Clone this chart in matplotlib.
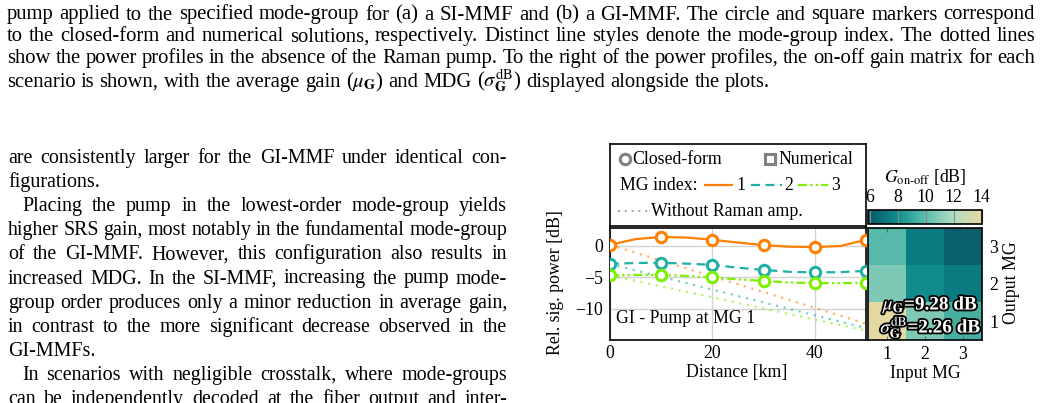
import numpy as np
import matplotlib
matplotlib.use("Agg")
import matplotlib.pyplot as plt
import matplotlib.patheffects as pe
from matplotlib.colors import LinearSegmentedColormap

plt.rcParams['font.family'] = ['Liberation Serif', 'DejaVu Serif']
plt.rcParams['mathtext.fontset'] = 'stix'

# ---- data ----
dist_marks = [0, 10, 20, 30, 40, 50]
mg1_closed = [0.15, 1.4, 0.95, 0.1, -0.2, 0.95]
mg2_closed = [-2.9, -2.7, -3.05, -3.85, -4.25, -4.0]
mg3_closed = [-4.7, -4.65, -5.05, -5.6, -5.95, -5.9]

dist_line = [0, 5, 10, 15, 20, 25, 30, 35, 40, 45, 50]
mg1_line = [0.15, 1.05, 1.4, 1.3, 0.95, 0.5, 0.1, -0.15, -0.2, -0.05, 0.95]
mg2_line = [-2.9, -2.75, -2.7, -2.85, -3.05, -3.5, -3.85, -4.15, -4.25, -4.2, -4.0]
mg3_line = [-4.7, -4.65, -4.65, -4.8, -5.05, -5.35, -5.6, -5.85, -5.95, -5.95, -5.9]

dist_noraman = [0, 50]
mg1_noraman = [0.15, -12.4]
mg2_noraman = [-2.9, -13.1]
mg3_noraman = [-4.7, -13.5]

# rows = output MG 1..3, cols = input MG 1..3
gain = np.array([[13.9, 10.8, 9.4],
                 [10.8, 8.0, 7.3],
                 [9.8, 7.3, 6.2]])
mg_ticks = [1, 2, 3]
cbar_ticks = [6, 8, 10, 12, 14]

caption_lines = [
    "pump applied to the specified mode-group for (a) a SI-MMF and (b) a GI-MMF. The circle and square markers correspond",
    "to the closed-form and numerical solutions, respectively. Distinct line styles denote the mode-group index. The dotted lines",
    "show the power profiles in the absence of the Raman pump. To the right of the power profiles, the on-off gain matrix for each",
    r"scenario is shown, with the average gain ($\mu_{\mathbf{G}}$) and MDG ($\sigma_{\mathbf{G}}^{\mathrm{dB}}$) displayed alongside the plots.",
]
body_lines = [
    ("are consistently larger for the GI-MMF under identical con-", True, False),
    ("figurations.", False, False),
    ("Placing the pump in the lowest-order mode-group yields", True, True),
    ("higher SRS gain, most notably in the fundamental mode-group", True, False),
    ("of the GI-MMF. However, this configuration also results in", True, False),
    ("increased MDG. In the SI-MMF, increasing the pump mode-", True, False),
    ("group order produces only a minor reduction in average gain,", True, False),
    ("in contrast to the more significant decrease observed in the", True, False),
    ("GI-MMFs.", False, False),
    ("In scenarios with negligible crosstalk, where mode-groups", True, True),
    ("can be independently decoded at the fiber output and inter-", True, False),
]

orange = '#ff8000'
teal = '#1fb0a6'
green = '#7cf000'
fs = 12.8
text_fs = 14.4
caption_fs = 14.9

W, H = 1041, 403
fig = plt.figure(figsize=(W / 100, H / 100), dpi=100)


def fx(px):
    return px / W


def fy(py):
    return 1 - py / H


def box(x0, y0, x1, y1):
    return [fx(x0), fy(y1), fx(x1) - fx(x0), fy(y0) - fy(y1)]


renderer = fig.canvas.get_renderer()


def put_line(s, x0, x1, yb, justify, size=text_fs):
    words = s.split(' ')
    arts = [fig.text(0, fy(yb), w, fontsize=size, va='baseline', ha='left') for w in words]
    widths = [a.get_window_extent(renderer).width for a in arts]
    space = size * 0.25 * 100 / 72
    if justify and len(words) > 1:
        gap = (x1 - x0 - sum(widths)) / (len(words) - 1)
        if gap < 0.7 * space:
            # too long for the column: shrink the line a little
            k = (x1 - x0 - 0.7 * space * (len(words) - 1)) / sum(widths)
            for a in arts:
                a.set_fontsize(size * k)
            widths = [w * k for w in widths]
            gap = 0.7 * space
    else:
        gap = space
    x = x0
    for a, w in zip(arts, widths):
        a.set_x(fx(x))
        x += w + gap


# ---- page text ----
cap_base = [19.5, 41.3, 63.1, 87.0]
for i, s in enumerate(caption_lines):
    put_line(s, 7, 1035, cap_base[i], i < 3, caption_fs)

for i, (s, just, indent) in enumerate(body_lines):
    put_line(s, 22 if indent else 8, 507, 163 + 24.1 * i, just)

# ---- power profile axes ----
ax = fig.add_axes(box(610, 227.5, 866, 340))
ax.plot(dist_noraman, mg1_noraman, color=orange, alpha=0.6, lw=1.6, ls=(0, (1, 2.5)))
ax.plot(dist_noraman, mg2_noraman, color=teal, alpha=0.6, lw=1.6, ls=(0, (1, 2.5)))
ax.plot(dist_noraman, mg3_noraman, color=green, alpha=0.6, lw=1.6, ls=(0, (1, 2.5)))

ax.plot(dist_line, mg1_line, color=orange, lw=1.6)
ax.plot(dist_line, mg2_line, color=teal, lw=1.6, ls=(0, (4, 2.5)))
ax.plot(dist_line, mg3_line, color=green, lw=1.6, ls=(0, (4, 1.5, 1, 1.5, 1, 1.5)))

for yv, c in [(mg1_closed, orange), (mg2_closed, teal), (mg3_closed, green)]:
    ax.plot(dist_marks, yv, 'o', ms=7.5, mfc='white', mec=c, mew=2.2, zorder=4)

ax.set_xlim(0, 50)
ax.set_ylim(-15, 2.9)
ax.set_xticks([0, 20, 40])
ax.set_yticks([-10, -5, 0])
ax.grid(color='#d2d2d2', lw=1.0)
ax.set_axisbelow(True)
ax.tick_params(length=0, labelsize=fs, pad=5)
ax.tick_params(axis='x', pad=3.5)
for sp in ax.spines.values():
    sp.set_linewidth(1.2)
ax.text(0.025, 0.19, 'GI - Pump at MG 1', transform=ax.transAxes, fontsize=fs, va='center')
fig.text(fx(737), fy(372.5), 'Distance [km]', fontsize=fs, ha='center', va='center')
fig.text(fx(556), fy(283), 'Rel. sig. power [dB]', fontsize=fs, ha='center', va='center', rotation=90)

# ---- legend box ----
lax = fig.add_axes(box(610, 143.5, 866, 225.5))
lax.set_xlim(610, 866)
lax.set_ylim(225.5, 143.5)
lax.set_xticks([])
lax.set_yticks([])
for sp in lax.spines.values():
    sp.set_linewidth(1.2)
lax.plot([625], [159], 'o', ms=7.5, mfc='white', mec='#808080', mew=2.2)
lax.text(632, 164.5, 'Closed-form', fontsize=fs, va='baseline')
lax.plot([770], [159], 's', ms=7.5, mfc='white', mec='#808080', mew=2.2)
lax.text(778, 164.5, 'Numerical', fontsize=fs, va='baseline')
lax.text(620, 189.5, 'MG index:', fontsize=fs, va='baseline')
lax.plot([705, 732], [184.5, 184.5], color=orange, lw=1.6)
lax.text(736, 189.5, '1', fontsize=fs, va='baseline')
lax.plot([751, 782], [184.5, 184.5], color=teal, lw=1.6, ls=(0, (4, 2.5)))
lax.text(784, 189.5, '2', fontsize=fs, va='baseline')
lax.plot([798, 828], [184.5, 184.5], color=green, lw=1.6, ls=(0, (4, 1.5, 1, 1.5, 1, 1.5)))
lax.text(831, 189.5, '3', fontsize=fs, va='baseline')
lax.plot([618, 648], [211, 211], color='#a0a0a0', lw=1.4, ls=(0, (1, 2.5)))
lax.text(651, 215.5, 'Without Raman amp.', fontsize=fs, va='baseline')

# ---- gain matrix ----
cmap = LinearSegmentedColormap.from_list(
    'gain', ['#0a5868', '#0b8a8a', '#5bbcab', '#acdcc4', '#e9d8a2'])
hax = fig.add_axes(box(868, 227.5, 982, 340))
im = hax.imshow(gain, origin='lower', cmap=cmap, vmin=5.85, vmax=14.0,
                extent=(0.5, 3.5, 0.5, 3.5), aspect='auto')
hax.set_xticks(mg_ticks)
hax.set_yticks(mg_ticks)
hax.yaxis.tick_right()
hax.tick_params(axis='both', direction='in', length=3, width=0.6, color='#555555',
                labelsize=fs, top=True, pad=4)
hax.tick_params(axis='y', pad=5)
for sp in hax.spines.values():
    sp.set_linewidth(1.2)
stroke = [pe.withStroke(linewidth=2.6, foreground='black')]
hax.text(0.97, 0.27, r'$\mu_{\mathbf{G}}$=9.28 dB', transform=hax.transAxes, ha='right',
         va='baseline', fontsize=13.8, fontweight='bold', color='white', path_effects=stroke)
hax.text(0.995, 0.065, r'$\sigma_{\mathbf{G}}^{\mathrm{dB}}$=2.26 dB', transform=hax.transAxes,
         ha='right', va='baseline', fontsize=13.8, fontweight='bold', color='white', path_effects=stroke)
fig.text(fx(925), fy(373), 'Input MG', fontsize=fs, ha='center', va='center')
fig.text(fx(1011), fy(283), 'Output MG', fontsize=fs, ha='center', va='center', rotation=90)

cax = fig.add_axes(box(867.5, 210, 981.5, 224))
cb = fig.colorbar(im, cax=cax, orientation='horizontal', ticks=cbar_ticks)
cax.xaxis.set_ticks_position('top')
cax.tick_params(direction='in', length=10, width=0.8, color='#8a8a8a', labelsize=fs, pad=3)
cb.outline.set_linewidth(1.2)
fig.text(fx(925), fy(177), r'$G_{\mathrm{on}\text{-}\mathrm{off}}$ [dB]', fontsize=fs,
         ha='center', va='center')

fig.savefig('out.png', dpi=100)
